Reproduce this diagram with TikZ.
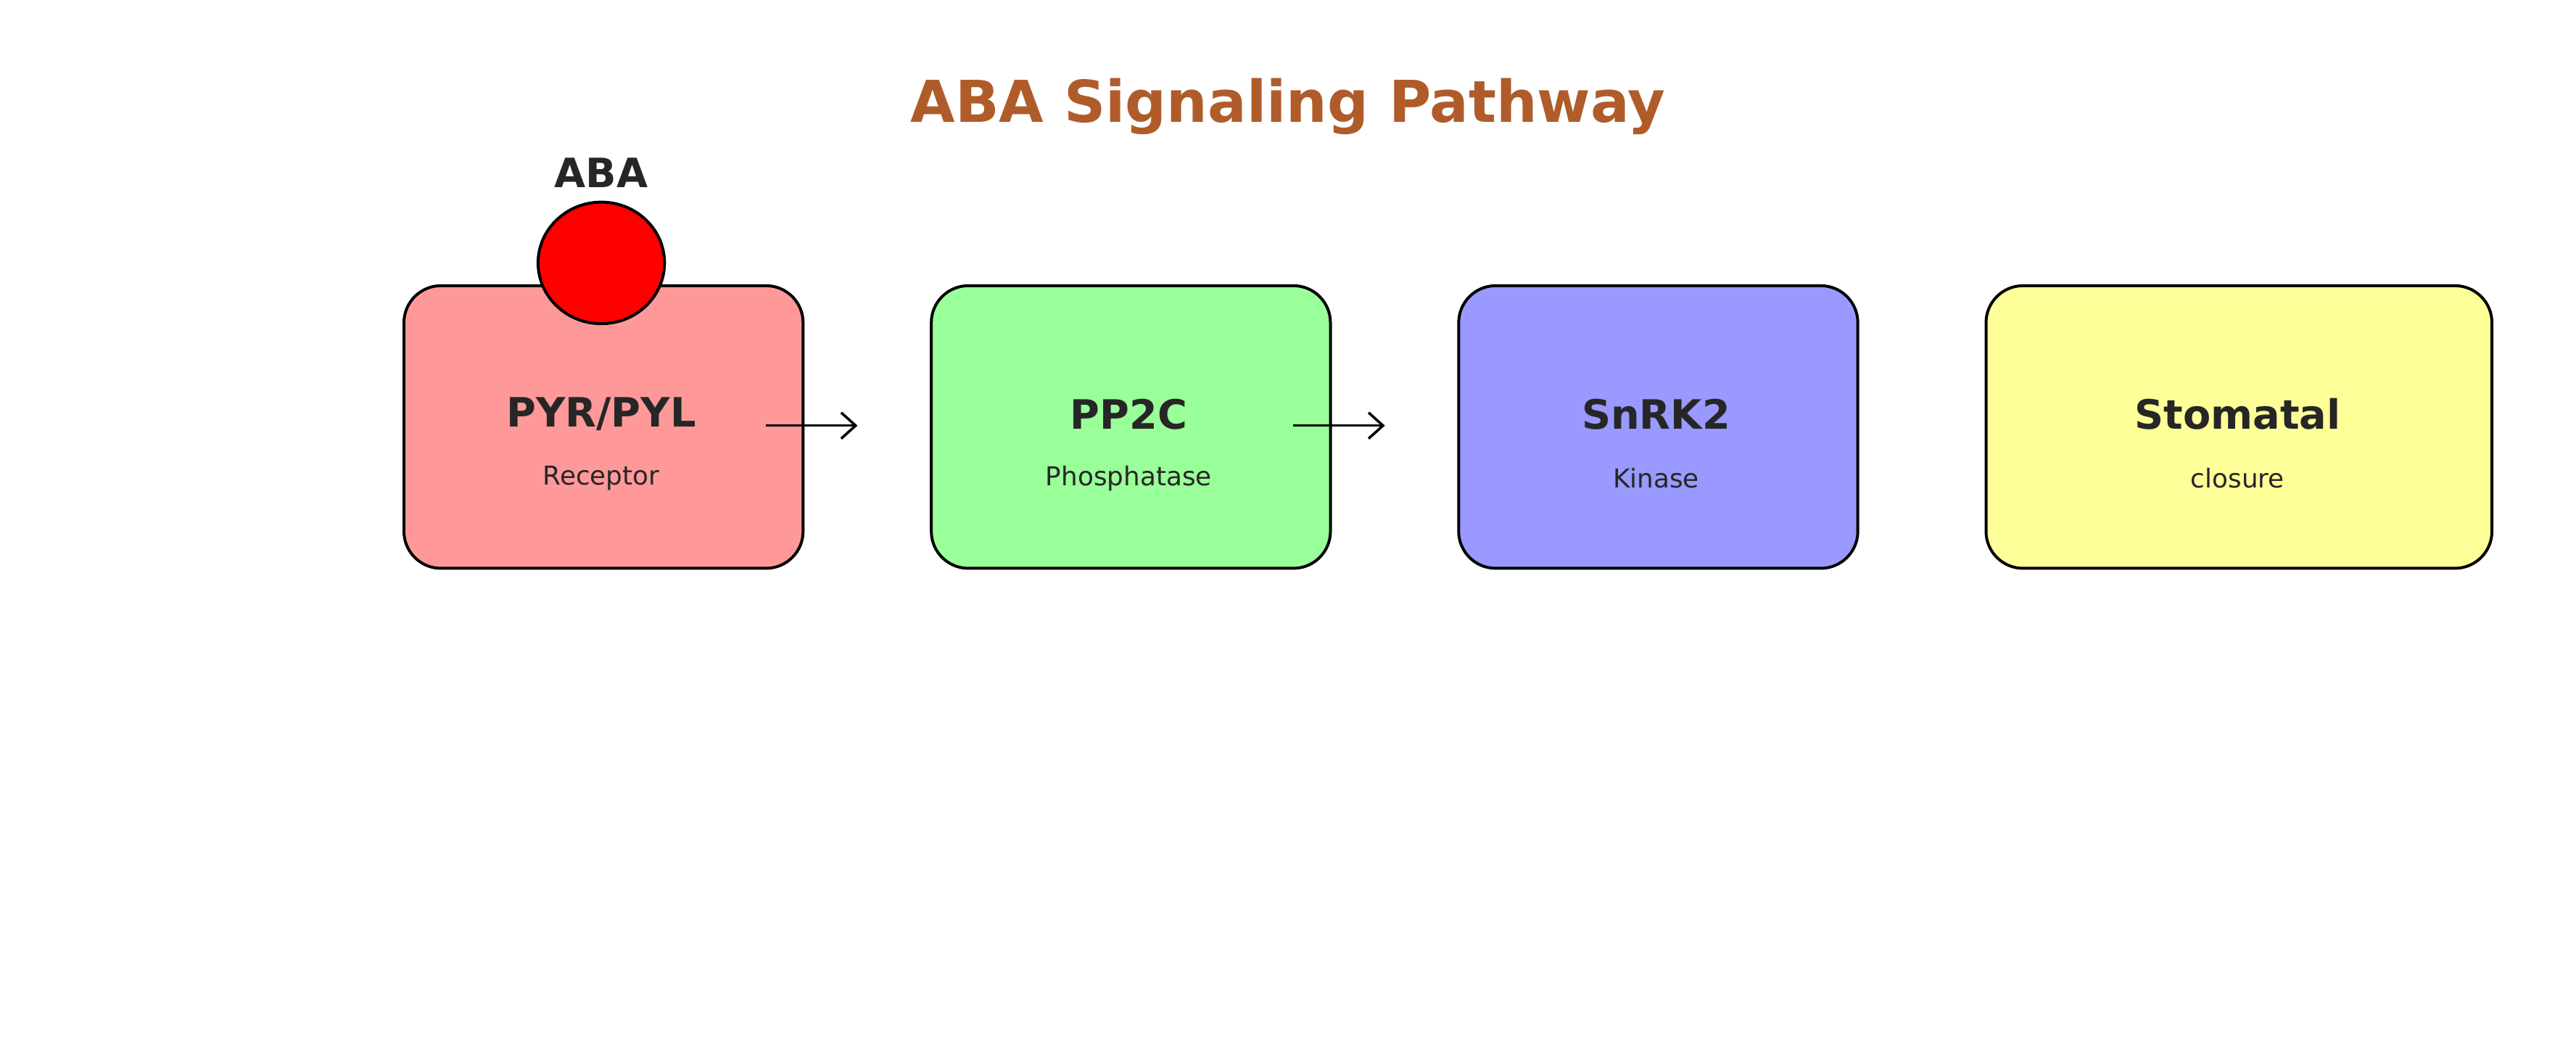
\documentclass[tikz,border=0pt]{standalone}
\usepackage{fontspec}
\setmainfont{DejaVu Sans}
\usetikzlibrary{positioning, arrows.meta, shapes.geometric}
\definecolor{txt}{HTML}{262626}
\definecolor{titlebrown}{HTML}{B05C2A}
\tikzset{stage/.style={draw=black, line width=1pt, rounded corners=0.45cm, anchor=north west, inner sep=0pt},
  head/.style={font=\fontsize{14}{16}\selectfont\bfseries, text=txt},
  sub/.style={font=\fontsize{9}{11}\selectfont, text=txt},
  flow/.style={-{Straight Barb[length=5pt,width=9pt]}, line width=0.9pt}}
\begin{document}
\begin{tikzpicture}[x=0.02cm, y=-0.02cm]
  \useasboundingbox (0,0) rectangle (1568,641);
  \node[font=\fontsize{20}{24}\selectfont\bfseries, text=titlebrown] (title) at (784,65) {ABA Signaling Pathway};

  \node[stage, fill={rgb,255:red,255;green,153;blue,153}, minimum width=4.86cm, minimum height=3.44cm] (pyr) at (245,173) {};
  \node[stage, fill={rgb,255:red,153;green,255;blue,153}, minimum width=4.86cm, minimum height=3.44cm] (pp2c) at (566,173) {};
  \node[stage, fill={rgb,255:red,153;green,153;blue,255}, minimum width=4.86cm, minimum height=3.44cm] (snrk) at (887,173) {};
  \node[stage, fill={rgb,255:red,255;green,255;blue,153}, minimum width=6.16cm, minimum height=3.44cm] (stom) at (1208,173) {};

  \node[head] (pyrh) at (366,252) {PYR/PYL};
  \node[sub] (pyrs) at (366,291) {Receptor};
  \node[head] (pp2ch) at (687,252) {PP2C};
  \node[sub] (pp2cs) at (687,291) {Phosphatase};
  \node[head] (snrkh) at (1008,252) {SnRK2};
  \node[sub] (snrks) at (1008,291) {Kinase};
  \node[head] (stomh) at (1362,252) {Stomatal};
  \node[sub] (stoms) at (1362,291) {closure};

  \node[draw=black, line width=1pt, fill=red, ellipse, minimum width=1.54cm, minimum height=1.48cm, inner sep=0pt] (aba) at (366,160) {};
  \node[head] (abal) at (366,105) {ABA};

  \coordinate (a1) at (466,259);
  \coordinate (a2) at (522,259);
  \coordinate (b1) at (787,259);
  \coordinate (b2) at (843,259);
  \draw[flow] (a1) -- (a2);
  \draw[flow] (b1) -- (b2);
\end{tikzpicture}
\end{document}
